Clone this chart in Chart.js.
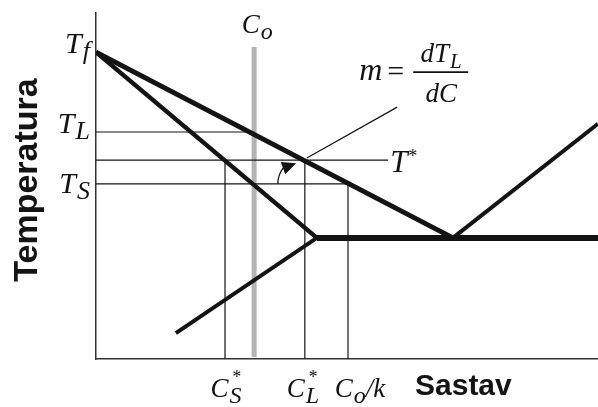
<!DOCTYPE html>
<html lang="sr">
<head>
    <meta charset="UTF-8"/>
    <title>Temperatura - Sastav</title>
    <style>
        html, body {
            margin: 0;
            padding: 0;
            background: #fff;
            overflow: hidden;
        }

        canvas {
            display: block;
        }
    </style>
    <script src="https://cdn.jsdelivr.net/npm/chart.js@4/dist/chart.umd.min.js"></script>
</head>
<body>
<canvas id="phase" width="598" height="407"></canvas>

<script>
    // Phase diagram lines (composition 0-100, temperature 0-100, arbitrary units)
    const liquidusX = [0, 71.1];
    const liquidusY = [88.7, 35.0];
    const solidusX = [0, 44.0];
    const solidusY = [88.7, 35.0];
    const solvusX = [15.9, 44.0];
    const solvusY = [7.5, 35.0];
    const eutecticX = [44.0, 100];
    const eutecticY = [35.0, 35.0];
    const rightLiquidusX = [71.1, 100];
    const rightLiquidusY = [35.0, 68.0];

    // Nominal composition C_o
    const coValue = 31.5;
    const coRangeY = [0.6, 90.2];

    // Temperature marks on the y axis
    const tempTicks = [88.7, 65.6, 50.6];
    const tempTickLabels = ['T_f', 'T_L', 'T_S'];
    const tStar = 57.5;
    const tStarLabel = 'T^*';

    // Composition marks on the x axis
    const compTicks = [25.7, 41.6, 50.2];
    const compTickLabels = ['C_S^*', 'C_L^*', 'C_o/k'];

    // Guide lines: [x0, y0, x1, y1]
    const guideTL = [0, 65.6, coValue, 65.6];
    const guideTStar = [0, tStar, 58.2, tStar];
    const guideTS = [0, 50.6, 50.2, 50.6];
    const guideCS = [25.7, 0, 25.7, tStar];
    const guideCL = [41.6, 0, 41.6, tStar];
    const guideCoK = [50.2, 0, 50.2, 50.6];
    const leaderLine = [42.0, 58.1, 60.0, 72.8];

    const INK = '#141414';
    const SERIF = '"Liberation Serif", "DejaVu Serif", serif';
    const SANS = '"Liberation Sans", Arial, sans-serif';

    function pts(xs, ys) {
        return xs.map((x, i) => ({x, y: ys[i]}));
    }

    function seg(s) {
        return [{x: s[0], y: s[1]}, {x: s[2], y: s[3]}];
    }

    function lineSet(data, width, color, order) {
        return {
            data,
            showLine: true,
            pointRadius: 0,
            borderColor: color || INK,
            borderWidth: width,
            fill: false,
            order: order || 0
        };
    }

    // Split "C_S^*" into main text, subscript, superscript parts
    function richParts(label, big, small) {
        const parts = [];
        for (let i = 0; i < label.length; i++) {
            const ch = label[i];
            const prev = parts[parts.length - 1];
            if (ch === '_') {
                parts.push({t: label[++i], size: small, dy: 6, kern: 1});
            } else if (ch === '^') {
                const stacked = prev && prev.dy > 0;
                parts.push({t: label[++i], size: 18, dy: stacked ? -14 : -10, stack: stacked, kern: 0});
            } else if (prev && prev.dy === 0) {
                prev.t += ch;
            } else {
                parts.push({t: ch, size: big, dy: 0, kern: 0});
            }
        }
        return parts;
    }

    function drawRich(ctx, label, x, y, align, big, small) {
        const parts = richParts(label, big, small);
        let w = 0;
        parts.forEach(p => {
            ctx.font = `italic ${p.size}px ${SERIF}`;
            p.w = ctx.measureText(p.t).width;
            if (!p.stack) w += p.w + p.kern;
        });
        let cx = align === 'right' ? x - w : align === 'center' ? x - w / 2 : x;
        let lastX = cx;
        ctx.textAlign = 'left';
        ctx.textBaseline = 'alphabetic';
        parts.forEach(p => {
            ctx.font = `italic ${p.size}px ${SERIF}`;
            if (p.stack) {
                ctx.fillText(p.t, lastX + 2, y + p.dy);
                return;
            }
            cx += p.kern;
            lastX = cx;
            ctx.fillText(p.t, cx, y + p.dy);
            cx += p.w;
        });
    }

    const labelPlugin = {
        id: 'phaseLabels',
        afterDraw(chart) {
            const {ctx, chartArea, scales} = chart;
            const xs = scales.x, ys = scales.y;
            ctx.save();
            ctx.fillStyle = INK;
            ctx.strokeStyle = INK;

            // y axis marks
            const yNudge = [1, 1, 9];
            tempTicks.forEach((t, i) => {
                drawRich(ctx, tempTickLabels[i], chartArea.left - 6,
                    ys.getPixelForValue(t) + yNudge[i], 'right', 30, 26);
            });

            // x axis marks
            const xNudge = [1, -2, 12];
            compTicks.forEach((c, i) => {
                drawRich(ctx, compTickLabels[i], xs.getPixelForValue(c) + xNudge[i],
                    chartArea.bottom + 38, 'center', 27, 24);
            });

            // C_o above the grey line
            drawRich(ctx, 'C_o', xs.getPixelForValue(coValue) + 3, chartArea.top + 20, 'center', 27, 24);

            // T* at the end of its guide line
            drawRich(ctx, tStarLabel, xs.getPixelForValue(guideTStar[2]) + 2,
                ys.getPixelForValue(tStar) + 12, 'left', 31, 24);

            // m = dT_L / dC near the leader line end
            const ax = xs.getPixelForValue(leaderLine[2]);
            const ay = ys.getPixelForValue(leaderLine[3]);
            drawRich(ctx, 'm', ax - 38, ay - 27, 'left', 32, 24);
            ctx.font = `30px ${SERIF}`;
            ctx.textAlign = 'left';
            ctx.fillText('=', ax - 10, ay - 26);
            ctx.lineWidth = 1.6;
            ctx.beginPath();
            ctx.moveTo(ax + 16, ay - 35);
            ctx.lineTo(ax + 71, ay - 35);
            ctx.stroke();
            drawRich(ctx, 'dT_L', ax + 44, ay - 45, 'center', 27, 21);
            drawRich(ctx, 'dC', ax + 44, ay - 5, 'center', 27, 22);

            // Slope arc with arrow at T*
            const cx = xs.getPixelForValue(compTicks[1]);
            const cy = ys.getPixelForValue(tempTicks[2]);
            const r = 27;
            const a1 = Math.PI * 1.2;
            ctx.lineWidth = 1.3;
            ctx.beginPath();
            ctx.arc(cx, cy, r, Math.PI, a1);
            ctx.stroke();
            const bx = cx + r * Math.cos(a1), by = cy + r * Math.sin(a1);
            const tx = xs.getPixelForValue(compTicks[1]), ty = ys.getPixelForValue(tStar);
            let dx = tx - bx, dy = ty - by;
            const len = Math.hypot(dx, dy);
            dx /= len;
            dy /= len;
            const tipX = bx + dx * 14, tipY = by + dy * 14;
            ctx.beginPath();
            ctx.moveTo(tipX, tipY);
            ctx.lineTo(bx - dy * 6.5, by + dx * 6.5);
            ctx.lineTo(bx + dy * 6.5, by - dx * 6.5);
            ctx.closePath();
            ctx.fill();

            // Axis titles
            ctx.font = `bold 34px ${SANS}`;
            ctx.textAlign = 'center';
            ctx.textBaseline = 'alphabetic';
            ctx.save();
            ctx.translate(37, 180);
            ctx.rotate(-Math.PI / 2);
            ctx.fillText('Temperatura', 0, 0);
            ctx.restore();

            ctx.font = `bold 30px ${SANS}`;
            ctx.textAlign = 'left';
            ctx.fillText('Sastav', 415, 395);
            ctx.restore();
        }
    };

    new Chart(document.getElementById('phase').getContext('2d'), {
        type: 'scatter',
        data: {
            datasets: [
                lineSet(pts(liquidusX, liquidusY), 5),
                lineSet(pts(solidusX, solidusY), 4.5),
                lineSet(pts(solvusX, solvusY), 4),
                lineSet(pts(eutecticX, eutecticY), 6),
                lineSet(pts(rightLiquidusX, rightLiquidusY), 4),
                lineSet(seg(guideTL), 1.2, INK, 1),
                lineSet(seg(guideTStar), 1.2, INK, 1),
                lineSet(seg(guideTS), 1.2, INK, 1),
                lineSet(seg(guideCS), 1.2, INK, 1),
                lineSet(seg(guideCL), 1.2, INK, 1),
                lineSet(seg(guideCoK), 1.2, INK, 1),
                lineSet(seg(leaderLine), 1.2, INK, 1),
                lineSet([{x: coValue, y: coRangeY[0]}, {x: coValue, y: coRangeY[1]}], 5, '#b3b3b3', 2)
            ]
        },
        options: {
            responsive: false,
            animation: false,
            devicePixelRatio: 1,
            layout: {padding: {left: 96, top: 13, right: 0, bottom: 48}},
            scales: {
                x: {
                    type: 'linear',
                    min: 0,
                    max: 100,
                    grid: {display: false, drawTicks: false},
                    ticks: {display: false},
                    border: {display: true, color: '#333', width: 1.5}
                },
                y: {
                    type: 'linear',
                    min: 0,
                    max: 100,
                    grid: {display: false, drawTicks: false},
                    ticks: {display: false},
                    border: {display: true, color: '#333', width: 1.5}
                }
            },
            plugins: {
                legend: {display: false},
                tooltip: {enabled: false}
            }
        },
        plugins: [labelPlugin]
    });
</script>
</body>
</html>
